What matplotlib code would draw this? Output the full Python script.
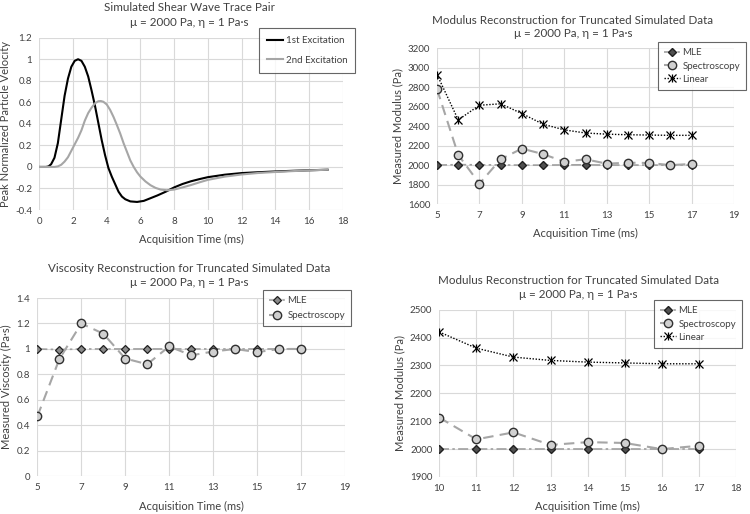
import matplotlib
matplotlib.use("Agg")
import matplotlib.pyplot as plt
from matplotlib.legend_handler import HandlerTuple

plt.rcParams['font.family'] = ['Lato', 'DejaVu Sans']

# ---------------- data ----------------
# Panel 1: simulated traces
t1 = [0, 0.4, 0.55, 0.7, 0.9, 1.1, 1.3, 1.5, 1.7, 1.9, 2.1, 2.3, 2.5, 2.7, 2.9, 3.1, 3.3,
      3.5, 3.7, 3.9, 4.1, 4.3, 4.5, 4.7, 4.9, 5.1, 5.4, 5.8, 6.2, 6.6, 7.0, 7.5, 8.0, 8.5,
      9.0, 9.5, 10, 11, 12, 13, 14, 15, 16, 17.1]
v1 = [0, 0, 0.005, 0.025, 0.085, 0.22, 0.44, 0.66, 0.82, 0.93, 0.985, 1.0, 0.985, 0.93,
      0.84, 0.71, 0.57, 0.41, 0.25, 0.11, -0.01, -0.09, -0.16, -0.23, -0.275, -0.30, -0.32,
      -0.325, -0.315, -0.29, -0.265, -0.23, -0.19, -0.158, -0.133, -0.113, -0.095, -0.072,
      -0.057, -0.049, -0.042, -0.036, -0.031, -0.026]
t2 = [0, 0.9, 1.1, 1.3, 1.5, 1.7, 1.9, 2.1, 2.3, 2.5, 2.7, 2.9, 3.1, 3.3, 3.5, 3.65, 3.8,
      4.0, 4.2, 4.4, 4.6, 4.8, 5.0, 5.2, 5.4, 5.6, 5.8, 6.0, 6.3, 6.6, 6.9, 7.2, 7.6, 8.0,
      8.5, 9.0, 9.5, 10, 11, 12, 13, 14, 15, 16, 17.1]
v2 = [0, 0, 0.005, 0.02, 0.05, 0.09, 0.15, 0.21, 0.27, 0.34, 0.43, 0.50, 0.55, 0.59, 0.61,
      0.612, 0.605, 0.58, 0.53, 0.465, 0.39, 0.31, 0.22, 0.14, 0.06, 0.0, -0.05, -0.09,
      -0.135, -0.17, -0.195, -0.21, -0.217, -0.21, -0.19, -0.168, -0.143, -0.12, -0.09,
      -0.07, -0.056, -0.047, -0.039, -0.032, -0.026]

# Panel 2: modulus, full truncation range
trunc_a = [5, 6, 7, 8, 9, 10, 11, 12, 13, 14, 15, 16, 17]
mle_mod_a = [2000, 2005, 2003, 2002, 2000, 2000, 2002, 2003, 2000, 2001, 2000, 2000, 2000]
spec_mod_a = [2780, 2105, 1810, 2060, 2170, 2113, 2035, 2060, 2015, 2025, 2022, 2000, 2012]
lin_mod_a = [2930, 2465, 2615, 2630, 2530, 2420, 2362, 2330, 2318, 2312, 2309, 2306, 2306]

# Panel 3: viscosity
mle_visc = [1.0, 0.995, 1.0, 1.0, 1.0, 1.0, 1.0, 1.0, 1.0, 1.0, 1.0, 1.0, 1.0]
spec_visc = [0.47, 0.92, 1.2, 1.12, 0.925, 0.88, 1.02, 0.95, 0.98, 1.0, 0.975, 1.0, 1.0]

# Panel 4: modulus, zoomed range
trunc_b = [10, 11, 12, 13, 14, 15, 16, 17]
mle_mod_b = [2000, 2000, 2000, 2000, 2000, 2000, 2000, 2000]
spec_mod_b = [2113, 2035, 2060, 2015, 2025, 2022, 2000, 2012]
lin_mod_b = [2420, 2362, 2330, 2318, 2312, 2309, 2306, 2306]

subtitle = "\u03bc = 2000 Pa, \u03b7 = 1 Pa\u00b7s"

# ---------------- styling helpers ----------------
TXT = '#404040'
GRID = '#d9d9d9'
TFS = 8.4   # title size


def style(ax, xlim, xticks, ylim, yticks, ylabel, yfmt):
    ax.set_xlim(*xlim)
    ax.set_ylim(*ylim)
    ax.set_xticks(xticks)
    ax.set_yticks(yticks)
    ax.set_yticklabels([yfmt(v) for v in yticks])
    ax.set_xticklabels([str(v) for v in xticks])
    ax.grid(True, color=GRID, lw=0.8)
    ax.set_axisbelow(True)
    for s in ax.spines.values():
        s.set_visible(False)
    ax.tick_params(length=0, labelsize=7, colors=TXT, pad=5)
    ax.set_xlabel("Acquisition Time (ms)", fontsize=8, color=TXT, labelpad=6)
    ax.set_ylabel(ylabel, fontsize=8, color=TXT, labelpad=3)


def gfmt(v):
    s = ('%.1f' % v).rstrip('0').rstrip('.')
    return s if s != '-0' else '0'


def ifmt(v):
    return '%d' % v


def titles(x, y1, y2, line1):
    fig.text(x, y1, line1, ha='center', va='center', fontsize=TFS, color=TXT)
    fig.text(x, y2, subtitle, ha='center', va='center', fontsize=TFS, color=TXT)


def frame(leg):
    leg.get_frame().set_edgecolor('#404040')
    leg.get_frame().set_linewidth(0.8)
    for tx in leg.get_texts():
        tx.set_color(TXT)


fig = plt.figure(figsize=(7.5, 5.14), dpi=100)

# ---------- Panel 1 ----------
ax1 = fig.add_axes([0.0524, 0.5914, 0.4046, 0.3353])
ax1.plot(t1, v1, color='black', lw=1.5, label='1st Excitation')
ax1.plot(t2, v2, color='#a6a6a6', lw=1.5, label='2nd Excitation')
style(ax1, (0, 18), list(range(0, 19, 2)), (-0.4, 1.2),
      [-0.4, -0.2, 0, 0.2, 0.4, 0.6, 0.8, 1.0, 1.2],
      "Peak Normalized Particle Velocity", gfmt)
titles(0.252, 0.985, 0.956, "Simulated Shear Wave Trace Pair")
leg = ax1.legend(loc='upper left', bbox_to_anchor=(259.3 / 750, 1 - 28.3 / 514),
                 bbox_transform=fig.transFigure, fontsize=7, frameon=True,
                 fancybox=False, handlelength=1.6, labelspacing=1.1, borderpad=0.8,
                 handletextpad=0.3, borderaxespad=0)
frame(leg)

MLE_LINE = dict(color='#a0a0a0', lw=1.2, linestyle=(0, (6, 2, 1.5, 2)))
SPEC_LINE = dict(color='#a6a6a6', lw=1.5, linestyle=(0, (5, 3)))
LIN_LINE = dict(color='black', lw=1.0, linestyle=(0, (1, 1.2)))


def modulus_panel(ax, x, mle, spec, lin, diamond_fc):
    l1, = ax.plot(x, mle, marker='D', ms=4, mfc=diamond_fc, mec='#202020', mew=1.0,
                  label='MLE', **MLE_LINE)
    l2, = ax.plot(x, spec, marker='o', ms=6, mfc='#d0d0d0', mec='#303030', mew=1.0,
                  label='Spectroscopy', **SPEC_LINE)
    l3, = ax.plot(x, lin, marker='x', ms=5.5, mec='black', mew=0.9, label='Linear',
                  **LIN_LINE)
    l4, = ax.plot(x, lin, marker='|', ms=6, mec='black', mew=0.9, linestyle='none')
    return [l1, l2, (l3, l4)]


def panel_legend(ax, handles, labels, x0, y0, spacing):
    leg = ax.legend(handles, labels, loc='upper left',
                    bbox_to_anchor=(x0 / 750, 1 - y0 / 514),
                    bbox_transform=fig.transFigure, fontsize=7, frameon=True,
                    fancybox=False, handlelength=1.6, labelspacing=spacing,
                    borderpad=0.6, handletextpad=0.3, borderaxespad=0,
                    handler_map={tuple: HandlerTuple(ndivide=1)})
    frame(leg)


# ---------- Panel 2 ----------
ax2 = fig.add_axes([0.5827, 0.603, 0.396, 0.303])
h = modulus_panel(ax2, trunc_a, mle_mod_a, spec_mod_a, lin_mod_a, '#505050')
style(ax2, (5, 19), list(range(5, 20, 2)), (1600, 3200), list(range(1600, 3201, 200)),
      "Measured Modulus (Pa)", ifmt)
titles(0.764, 0.961, 0.935, "Modulus Reconstruction for Truncated Simulated Data")
panel_legend(ax2, h, ['MLE', 'Spectroscopy', 'Linear'], 658.3, 42.3, 0.45)

# ---------- Panel 3 ----------
ax3 = fig.add_axes([0.0498, 0.0733, 0.4102, 0.3469])
m1, = ax3.plot(trunc_a, mle_visc, marker='D', ms=4, mfc='#8a8a8a', mec='#202020',
               mew=0.9, label='MLE', **MLE_LINE)
m2, = ax3.plot(trunc_a, spec_visc, marker='o', ms=6, mfc='#d0d0d0', mec='#303030',
               mew=1.0, label='Spectroscopy', **SPEC_LINE)
style(ax3, (5, 19), list(range(5, 20, 2)), (0, 1.4),
      [0, 0.2, 0.4, 0.6, 0.8, 1.0, 1.2, 1.4], "Measured Viscosity (Pa\u00b7s)", gfmt)
titles(0.252, 0.477, 0.451, "Viscosity Reconstruction for Truncated Simulated Data")
panel_legend(ax3, [m1, m2], ['MLE', 'Spectroscopy'], 263.3, 290.3, 0.6)

# ---------- Panel 4 ----------
ax4 = fig.add_axes([0.5857, 0.072, 0.3956, 0.3255])
h = modulus_panel(ax4, trunc_b, mle_mod_b, spec_mod_b, lin_mod_b, '#505050')
style(ax4, (10, 18), list(range(10, 19)), (1900, 2500), list(range(1900, 2501, 100)),
      "Measured Modulus (Pa)", ifmt)
titles(0.771, 0.455, 0.428, "Modulus Reconstruction for Truncated Simulated Data")
panel_legend(ax4, h, ['MLE', 'Spectroscopy', 'Linear'], 654.3, 300.3, 0.45)

fig.savefig('out.png', dpi=100)
